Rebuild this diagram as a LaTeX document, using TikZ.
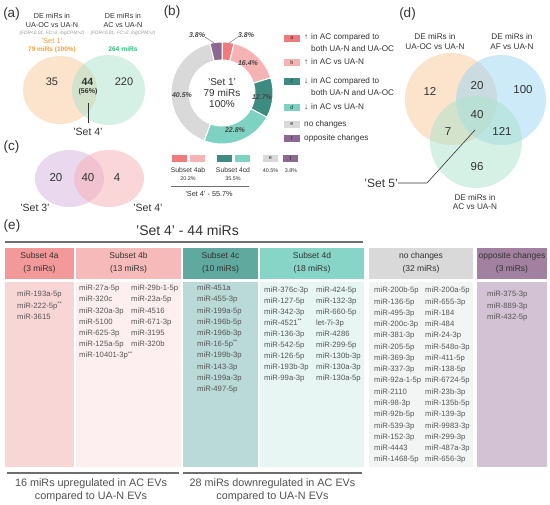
\documentclass[tikz,border=0pt]{standalone}
\usepackage{fontspec}
\setmainfont{Liberation Sans}
\newcommand\myfs[2]{\fontsize{#1}{#2}\selectfont}
\definecolor{txt}{HTML}{333333}
\definecolor{listgray}{HTML}{555555}
\definecolor{setorange}{HTML}{F5A03A}
\definecolor{setgreen}{HTML}{2EBD7E}
\definecolor{vA}{HTML}{F9C99A}
\definecolor{vB}{HTML}{ACE2CA}
\definecolor{vC}{HTML}{D7B5DE}
\definecolor{vD}{HTML}{F8AEB3}
\definecolor{vE}{HTML}{9BD7F2}
\definecolor{ca}{HTML}{F07A7C}
\definecolor{cb}{HTML}{F6B3B4}
\definecolor{cc}{HTML}{3D8C82}
\definecolor{cd}{HTML}{7ED2C1}
\definecolor{ce}{HTML}{D9D9D9}
\definecolor{cf}{HTML}{8D6891}
\definecolor{h4a}{HTML}{F3999A}
\definecolor{b4a}{HTML}{F9D6D6}
\definecolor{h4b}{HTML}{F7BABA}
\definecolor{b4b}{HTML}{FDEFEF}
\definecolor{h4c}{HTML}{5FA99F}
\definecolor{b4c}{HTML}{B9DAD7}
\definecolor{h4d}{HTML}{86D5C6}
\definecolor{b4d}{HTML}{E7F6F3}
\definecolor{hnc}{HTML}{D9D9D9}
\definecolor{bnc}{HTML}{F3F5F4}
\definecolor{hop}{HTML}{A2809F}
\definecolor{bop}{HTML}{D3C2D3}
\definecolor{rule}{HTML}{6E6E6E}
\newcommand\donutseg[3]{\fill[#3,draw=white,line width=1pt] ([shift={(222,93)}]#1:51) arc[start angle=#1,end angle=#2,radius=51] -- ([shift={(222,93)}]#2:33) arc[start angle=#2,end angle=#1,radius=33] -- cycle;}
\begin{document}
\begin{tikzpicture}[x=1pt,y=-1pt,
  every node/.style={inner sep=0pt,text=txt},
  panellbl/.style={font=\myfs{13.5}{16}},
  vennfill/.style={fill opacity=0.5,draw=none},
  vnum/.style={font=\myfs{11.5}{13}},
  vhead/.style={align=center,font=\myfs{7.2}{8.8}},
  dhead/.style={align=center,font=\myfs{8.2}{9.6}},
  fdr/.style={font=\myfs{4.8}{6}\itshape,text=gray!80},
  pct/.style={font=\myfs{7}{8}\bfseries\itshape,text=txt!90},
  lbox/.style={minimum width=16pt,minimum height=7pt,font=\myfs{5.5}{6},text=txt},
  sbox/.style={minimum width=15pt,minimum height=7pt,font=\myfs{5.5}{6},text=txt},
  legtxt/.style={anchor=west,font=\myfs{8.2}{10}},
  small/.style={font=\myfs{6.8}{8}},
  tiny/.style={font=\myfs{5.4}{6.5}},
  hdr/.style={align=center,font=\myfs{8.5}{12.5}},
  lst/.style={align=left,anchor=north west,font=\myfs{7.7}{11.2},text=listgray},
  lstb/.style={align=left,anchor=north west,font=\myfs{7.7}{11.5},text=listgray},
  lstc/.style={align=left,anchor=north west,font=\myfs{7.7}{11.27},text=listgray},
  lstd/.style={align=left,anchor=north west,font=\myfs{7.7}{11},text=listgray},
  leader/.style={draw=txt,line width=0.6pt},
  rulel/.style={draw=rule,line width=1.3pt},
  foot/.style={align=center,font=\myfs{10.8}{13},text=txt!85}
]
\useasboundingbox (0,0) rectangle (550,505);
\fill[white] (0,0) rectangle (550,505);

% ---------------- panel (a)
\node[panellbl] (pa) at (11.5,14) {(a)};
\node[vhead] (ah1) at (52,20.5) {DE miRs in\\UA-OC vs UA-N};
\node[fdr] (af1) at (52,33) {(FDR<0.01, FC>2, logCPM>2)};
\node[font=\myfs{7.5}{9},text=setorange] (as1) at (52,41) {'Set 1'};
\node[font=\myfs{6.5}{8}\bfseries,text=setorange] (as2) at (52,50) {79 miRs (100\%)};
\node[vhead] (ah2) at (123,20.5) {DE miRs in\\AC vs UA-N};
\node[fdr] (af2) at (123,33) {(FDR<0.01, FC>2, logCPM>2)};
\node[font=\myfs{6.7}{8}\bfseries,text=setgreen] (as3) at (123,49) {264 miRs};
\fill[vA,vennfill] (60,90) ellipse[x radius=37,y radius=34];
\fill[vB,vennfill] (108.5,90) ellipse[x radius=36.5,y radius=35];
\node[font=\myfs{11}{13}] (a35) at (52,82) {35};
\node[font=\myfs{10.5}{12}\bfseries] (a44) at (87.5,82) {44};
\node[font=\myfs{7}{8}\bfseries] (a56) at (88,92) {(56\%)};
\node[font=\myfs{11}{13}] (a220) at (124,82) {220};
\node[font=\myfs{10.5}{12}] (aset4) at (88,132) {'Set 4'};
\coordinate (aL1) at (88,103);
\coordinate (aL2) at (88,123);
\draw[leader] (aL1) -- (aL2);

% ---------------- panel (c)
\node[panellbl] (pc) at (11.5,147.5) {(c)};
\fill[vC,vennfill] (69.5,178.5) ellipse[x radius=34.5,y radius=28.5];
\fill[vD,vennfill] (109,178.5) ellipse[x radius=35,y radius=28.5];
\node[vnum] (c20) at (56,178) {20};
\node[vnum] (c40) at (88,178) {40};
\node[vnum] (c4) at (117,178) {4};
\node[font=\myfs{10.5}{12}] (cs3) at (35,208) {'Set 3'};
\node[font=\myfs{10.5}{12}] (cs4) at (148,208) {'Set 4'};

% ---------------- panel (b)
\node[panellbl] (pb) at (172,12.5) {(b)};
\donutseg{-90}{-76.32}{ca}
\donutseg{-76.32}{-17.28}{cb}
\donutseg{-17.28}{28.44}{cc}
\donutseg{28.44}{110.52}{cd}
\donutseg{110.52}{256.32}{ce}
\donutseg{256.32}{270}{cf}
\node[align=center,font=\myfs{10}{11}] (bc) at (222,93) {'Set 1'\\79 miRs\\100\%};
\node[pct] (p164) at (248,63) {16.4\%};
\node[pct] (p127) at (262,97) {12.7\%};
\node[pct] (p228) at (235,130) {22.8\%};
\node[pct] (p405) at (182,95) {40.5\%};
\node[pct] (p38l) at (197,35) {3.8\%};
\node[pct] (p38r) at (246,35) {3.8\%};
\coordinate (bl1) at (205,37);
\coordinate (bl2) at (214,43);
\coordinate (br1) at (238,37);
\coordinate (br2) at (229,43);
\draw[draw=gray,line width=0.5pt] (bl1) -- (bl2);
\draw[draw=gray,line width=0.5pt] (br1) -- (br2);
% legend right
\node[lbox,fill=ca] (la) at (292,38.5) {a};
\node[legtxt] (lat) at (304,37) {↑};
\node[legtxt] (la1) at (311,37) {in AC compared to};
\node[legtxt] (la2) at (311,49) {both UA-N and UA-OC};
\node[lbox,fill=cb] (lb) at (292,62.5) {b};
\node[legtxt] (lbt) at (304,62) {↑};
\node[legtxt] (lb1) at (311,62) {in AC vs UA-N};
\node[lbox,fill=cc] (lc) at (292,81.5) {c};
\node[legtxt] (lct) at (304,81) {↓};
\node[legtxt] (lc1) at (311,81) {in AC compared to};
\node[legtxt] (lc2) at (311,93) {both UA-N and UA-OC};
\node[lbox,fill=cd] (ld) at (292,107.5) {d};
\node[legtxt] (ldt) at (304,107) {↓};
\node[legtxt] (ld1) at (311,107) {in AC vs UA-N};
\node[lbox,fill=ce] (le) at (292,124.5) {e};
\node[legtxt] (le1) at (304,124) {no changes};
\node[lbox,fill=cf] (lf) at (292,139) {f};
\node[legtxt] (lf1) at (304,138) {opposite changes};
% legend below
\node[sbox,fill=ca] (sa) at (179.5,158.5) {};
\node[sbox,fill=cb] (sb) at (197.5,158.5) {};
\node[sbox,fill=cc] (sc) at (224.5,158.5) {};
\node[sbox,fill=cd] (sd) at (242.5,158.5) {};
\node[sbox,fill=ce] (se) at (270.5,158.5) {e};
\node[sbox,fill=cf] (sf) at (290.5,158.5) {f};
\node[small] (s4ab) at (188,170) {Subset 4ab};
\node[tiny] (s4abp) at (188,178.5) {20.2\%};
\node[small] (s4cd) at (233,170) {Subset 4cd};
\node[tiny] (s4cdp) at (233,178.5) {35.5\%};
\node[tiny] (sep) at (270.5,171) {40.5\%};
\node[tiny] (sfp) at (291,171) {3.8\%};
\coordinate (sl1) at (171,186);
\coordinate (sl2) at (249,186);
\draw[draw=rule,line width=0.7pt] (sl1) -- (sl2);
\node[font=\myfs{7.3}{9}] (s557) at (209,194) {'Set 4' - 55.7\%};

% ---------------- panel (d)
\node[panellbl] (pd) at (407.5,14) {(d)};
\node[dhead] (dh1) at (435,41.5) {DE miRs in\\UA-OC vs UA-N};
\node[dhead] (dh2) at (512,41.5) {DE miRs in\\AF vs UA-N};
\fill[vA,vennfill] (451,99) circle[radius=46];
\fill[vE,vennfill] (501,100) circle[radius=45];
\fill[vB,vennfill] (476,142) circle[radius=46];
\node[dhead] (dh3) at (475,202) {DE miRs in\\AC vs UA-N};
\node[vnum] (d12) at (430,91) {12};
\node[vnum] (d20) at (477,86) {20};
\node[vnum] (d100) at (523,90) {100};
\node[vnum] (d40) at (477,115) {40};
\node[vnum] (d7) at (448,132) {7};
\node[vnum] (d121) at (502,131) {121};
\node[vnum] (d96) at (477,167) {96};
\node[font=\myfs{12}{14},anchor=east] (dset5) at (398,183) {'Set 5'};
\coordinate (dL1) at (475,130);
\coordinate (dL2) at (427,183);
\draw[leader] (dL1) -- (dL2) -- (dset5.east);

% ---------------- panel (e)
\node[panellbl] (pe) at (12,226) {(e)};
\node[font=\myfs{14}{16}] (etitle) at (187.5,230) {'Set 4' - 44 miRs};
\coordinate (et1) at (5,242);
\coordinate (et2) at (363,242);
\draw[rulel] (et1) -- (et2);
% headers
\fill[h4a] (5,248) rectangle (74,279);
\fill[h4b] (76,248) rectangle (181,279);
\fill[h4c] (183,248) rectangle (258,279);
\fill[h4d] (260,248) rectangle (364,279);
\fill[hnc] (369,248) rectangle (473,279);
\fill[hop] (477,248) rectangle (547,279);
\fill[b4a] (5,282) rectangle (74,467);
\fill[b4b] (76,282) rectangle (181,467);
\fill[b4c] (183,282) rectangle (258,467);
\fill[b4d] (260,282) rectangle (364,467);
\fill[bnc] (369,282) rectangle (473,467);
\fill[bop] (477,282) rectangle (547,467);
\node[hdr] (h1) at (39.5,263) {Subset 4a\\(3 miRs)};
\node[hdr] (h2) at (128.5,263) {Subset 4b\\(13 miRs)};
\node[hdr] (h3) at (220.5,263) {Subset 4c\\(10 miRs)};
\node[hdr] (h4) at (312,263) {Subset 4d\\(18 miRs)};
\node[hdr] (h5) at (421,263) {no changes\\(32 miRs)};
\node[hdr] (h6) at (512,263) {opposite changes\\(3 miRs)};
% lists
\node[lstb] (l4a) at (17,291) {miR-193a-5p\\miR-222-5p\textsuperscript{**}\\miR-3615};
\node[lst] (l4b1) at (79,285) {miR-27a-5p\\miR-320c\\miR-320a-3p\\miR-5100\\miR-625-3p\\miR-125a-5p\\miR-10401-3p\textsuperscript{**}};
\node[lst] (l4b2) at (131,285) {miR-29b-1-5p\\miR-23a-5p\\miR-4516\\miR-671-3p\\miR-3195\\miR-320b};
\node[lst] (l4c) at (197,285) {miR-451a\\miR-455-3p\\miR-199a-5p\\miR-196b-5p\\miR-196b-3p\\miR-16-5p\textsuperscript{**}\\miR-199b-3p\\miR-143-3p\\miR-199a-3p\\miR-497-5p};
\node[lstd] (l4d1) at (264,287) {miR-376c-3p\\miR-127-5p\\miR-342-3p\\miR-4521\textsuperscript{**}\\miR-136-3p\\miR-542-5p\\miR-126-5p\\miR-193b-3p\\miR-99a-3p};
\node[lstd] (l4d2) at (316,287) {miR-424-5p\\miR-132-3p\\miR-660-5p\\let-7i-3p\\miR-4286\\miR-299-5p\\miR-130b-3p\\miR-130a-3p\\miR-130a-5p};
\node[lstc] (lnc1) at (374,287) {miR-200b-5p\\miR-136-5p\\miR-495-3p\\miR-200c-3p\\miR-381-3p\\miR-205-5p\\miR-369-3p\\miR-337-3p\\miR-92a-1-5p\\miR-2110\\miR-98-3p\\miR-92b-5p\\miR-539-3p\\miR-152-3p\\miR-4443\\miR-1468-5p};
\node[lstc] (lnc2) at (425,287) {miR-200a-5p\\miR-655-3p\\miR-184\\miR-484\\miR-24-3p\\miR-548o-3p\\miR-411-5p\\miR-138-5p\\miR-6724-5p\\miR-23b-3p\\miR-135b-5p\\miR-139-3p\\miR-9983-3p\\miR-299-3p\\miR-487a-3p\\miR-656-3p};
\node[lstb] (lop) at (487,291) {miR-375-3p\\miR-889-3p\\miR-432-5p};
% bottom
\coordinate (eb1) at (7,473);
\coordinate (eb2) at (179,473);
\coordinate (eb3) at (183,473);
\coordinate (eb4) at (362,473);
\draw[rulel] (eb1) -- (eb2);
\draw[rulel] (eb3) -- (eb4);
\node[foot] (f1) at (91,490.5) {16 miRs upregulated in AC EVs\\compared to UA-N EVs};
\node[foot] (f2) at (272.5,490.5) {28 miRs downregulated in AC EVs\\compared to UA-N EVs};
\end{tikzpicture}
\end{document}
